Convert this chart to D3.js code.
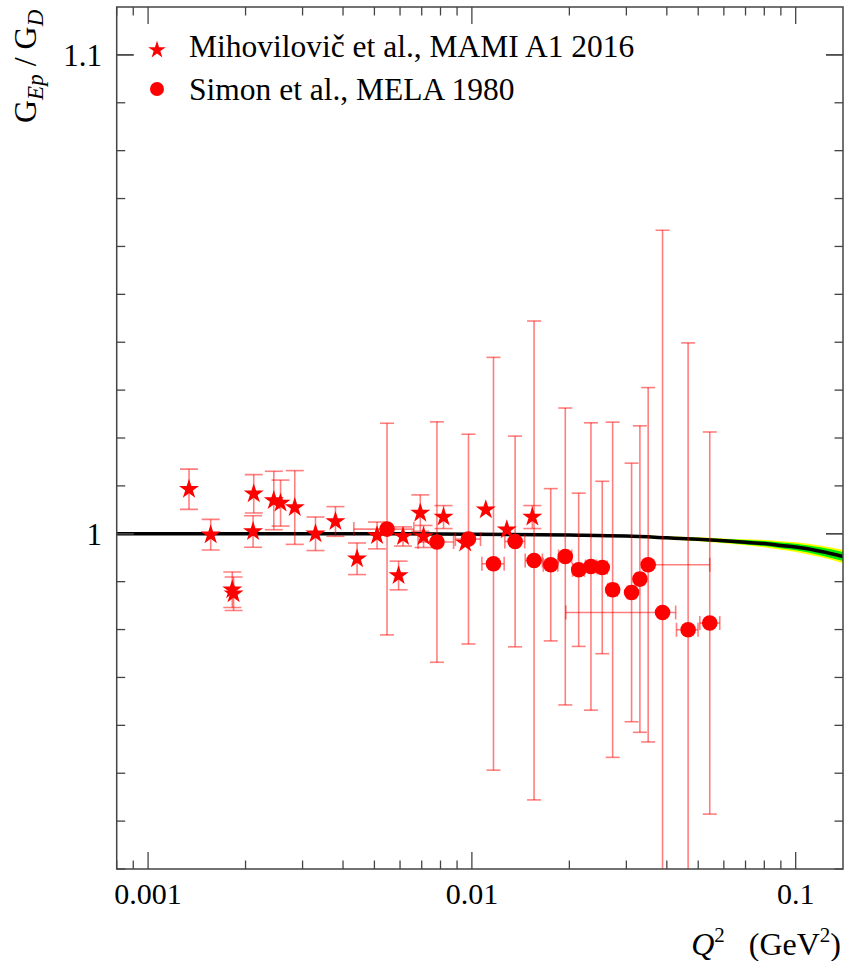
<!DOCTYPE html>
<html>
<head>
<meta charset="utf-8">
<script src="https://cdn.jsdelivr.net/npm/d3@7"></script>
<style>
    body { margin: 0; background: #fff; }
    svg { display: block; font-family: "Liberation Serif", "DejaVu Serif", serif; }
</style>
</head>
<body>
<div id="chart"></div>
<script>
// Mihovilovic et al., MAMI A1 2016 (stars)
var mamiQ2 = [0.001338, 0.001561, 0.001820, 0.001837, 0.00212, 0.00211, 0.002445, 0.002565, 0.002838,
    0.003289, 0.003790, 0.004420, 0.005095, 0.006128, 0.005938, 0.006929, 0.007093, 0.008176,
    0.009537, 0.01104, 0.01282, 0.01537];
var mamiVal = [1.0093, 0.9998, 0.98831, 0.98747, 1.00835, 1.00048, 1.00695, 1.00641, 1.00549,
    1.0000, 1.00257, 0.99478, 0.99965, 0.99944, 0.99129, 1.00432, 0.99944, 1.00349,
    0.99806, 1.00501, 1.00084, 1.00349];
var mamiErr = [0.0042, 0.0032, 0.0037, 0.0035, 0.0040, 0.0033, 0.0061, 0.0048, 0.0077,
    0.0035, 0.0031, 0.0033, 0.0028, 0.0020, 0.0030, 0.0038, 0.0023, 0.0024,
    0, 0, 0, 0.0024];

// Simon et al., MELA 1980 (circles)
var melaQ2 = [0.005470, 0.007800, 0.009761, 0.01166, 0.01360, 0.01556, 0.01752, 0.01943, 0.02137,
    0.02332, 0.02527, 0.02721, 0.03113, 0.03303, 0.03503, 0.03880, 0.04654, 0.05428];
var melaVal = [1.00098, 0.99827, 0.99889, 0.99374, 0.99839, 0.99443, 0.99353, 0.99526, 0.99248,
    0.99317, 0.99296, 0.98831, 0.98775, 0.99054, 0.99353, 0.98357, 0.97996, 0.98136];
var melaErr = [0.0221, 0.0251, 0.0219, 0.0431, 0.0220, 0.0500, 0.0159, 0.0310, 0.0160,
    0.0300, 0.0180, 0.0350, 0.0270, 0.0320, 0.0370, 0.0798, 0.0599, 0.0399];
var melaXLo = [0.00115, 0.00098, 0.00087, 0.00092, 0.00096, 0.00095, 0.0009, 0.0009, 0.0009,
    0.0009, 0.0009, 0.0009, 0.0009, 0.0009, 0.0009, 0.0193, 0.0037, 0.0037];
var melaXHi = [0.00115, 0.00098, 0.00087, 0.00092, 0.00096, 0.00095, 0.0009, 0.0009, 0.0009,
    0.0009, 0.0009, 0.0009, 0.0009, 0.0009, 0.01925, 0.0038, 0.0034, 0.004];

// fit curve with its uncertainty bands
var curveQ2 = [0.0008, 0.005, 0.01, 0.02, 0.03, 0.04, 0.05, 0.06, 0.07, 0.08, 0.09, 0.1, 0.12, 0.14];
var curveVal = [1.0, 1.0, 0.99992, 0.99973, 0.99952, 0.99916, 0.99885, 0.99854, 0.99823, 0.99795,
    0.99756, 0.99722, 0.9963, 0.99526];
var curveErrIn = [0, 0, 0.00005, 0.0001, 0.00015, 0.0002, 0.00028, 0.00035, 0.00045, 0.00052,
    0.0006, 0.00068, 0.00082, 0.00095];
var curveErrOut = [0, 0, 0.00008, 0.00016, 0.00024, 0.00032, 0.0004, 0.0005, 0.00064, 0.00076,
    0.00088, 0.001, 0.0012, 0.0014];

var xMajor = [0.001, 0.01, 0.1];
var xMajorLabels = ["0.001", "0.01", "0.1"];
var yMajor = [1.0, 1.1];
var yMajorLabels = ["1", "1.1"];

var width = 848,
    height = 961;
var pLeft = 116.7, pRight = 843, pTop = 7, pBottom = 869;

var x = d3.scaleLog().domain([0.0008, 0.14]).range([pLeft, pRight]);
var y = d3.scaleLinear().domain([0.93, 1.11]).range([pBottom, pTop]);

var svg = d3.select("#chart").append("svg")
    .attr("width", width)
    .attr("height", height);

svg.append("clipPath").attr("id", "plotclip")
    .append("rect")
    .attr("x", pLeft).attr("y", pTop)
    .attr("width", pRight - pLeft).attr("height", pBottom - pTop);

var plot = svg.append("g").attr("clip-path", "url(#plotclip)");

var mami = mamiQ2.map(function (q, i) {
    return { q: q, v: mamiVal[i], e: mamiErr[i] };
});
var mela = melaQ2.map(function (q, i) {
    return { q: q, v: melaVal[i], e: melaErr[i], xlo: melaXLo[i], xhi: melaXHi[i] };
});
var curve = curveQ2.map(function (q, i) {
    return { q: q, v: curveVal[i], e1: curveErrIn[i], e2: curveErrOut[i] };
});

// bands
var bandOut = d3.area()
    .x(function (d) { return x(d.q); })
    .y0(function (d) { return y(d.v - d.e2); })
    .y1(function (d) { return y(d.v + d.e2); })
    .curve(d3.curveMonotoneX);
var bandIn = d3.area()
    .x(function (d) { return x(d.q); })
    .y0(function (d) { return y(d.v - d.e1); })
    .y1(function (d) { return y(d.v + d.e1); })
    .curve(d3.curveMonotoneX);
var line = d3.line()
    .x(function (d) { return x(d.q); })
    .y(function (d) { return y(d.v); })
    .curve(d3.curveMonotoneX);

plot.append("path").attr("d", bandOut(curve)).attr("fill", "#ffff00");
plot.append("path").attr("d", bandIn(curve)).attr("fill", "#00ee00");
plot.append("path").attr("d", line(curve))
    .attr("fill", "none").attr("stroke", "#000").attr("stroke-width", 3.5);

// error bars
var errCol = "rgba(255,0,0,0.5)";
var eb = plot.append("g").attr("stroke", errCol).attr("stroke-width", 1.6).attr("fill", "none");

mami.forEach(function (d) {
    if (d.e <= 0) return;
    var xp = x(d.q);
    eb.append("line").attr("x1", xp).attr("x2", xp).attr("y1", y(d.v - d.e)).attr("y2", y(d.v + d.e));
    [d.v - d.e, d.v + d.e].forEach(function (v) {
        eb.append("line").attr("x1", xp - 9).attr("x2", xp + 9).attr("y1", y(v)).attr("y2", y(v));
    });
});

mela.forEach(function (d) {
    var xp = x(d.q), yp = y(d.v);
    eb.append("line").attr("x1", xp).attr("x2", xp).attr("y1", y(d.v - d.e)).attr("y2", y(d.v + d.e));
    [d.v - d.e, d.v + d.e].forEach(function (v) {
        eb.append("line").attr("x1", xp - 7).attr("x2", xp + 7).attr("y1", y(v)).attr("y2", y(v));
    });
    var xa = x(d.q - d.xlo), xb = x(d.q + d.xhi);
    eb.append("line").attr("x1", xa).attr("x2", xb).attr("y1", yp).attr("y2", yp);
    [xa, xb].forEach(function (xx) {
        eb.append("line").attr("x1", xx).attr("x2", xx).attr("y1", yp - 7).attr("y2", yp + 7);
    });
});

// markers
var star = d3.symbol().type(d3.symbolStar).size(125);
plot.selectAll(".star").data(mami).enter().append("path")
    .attr("class", "star")
    .attr("d", star)
    .attr("fill", "#ff0000")
    .attr("transform", function (d) { return "translate(" + x(d.q) + "," + y(d.v) + ")"; });

plot.selectAll(".dot").data(mela).enter().append("circle")
    .attr("class", "dot")
    .attr("cx", function (d) { return x(d.q); })
    .attr("cy", function (d) { return y(d.v); })
    .attr("r", 7.8)
    .attr("fill", "#ff0000");

// frame and ticks
var axisCol = "#444";
svg.append("rect")
    .attr("x", pLeft).attr("y", pTop)
    .attr("width", pRight - pLeft).attr("height", pBottom - pTop)
    .attr("fill", "none").attr("stroke", axisCol).attr("stroke-width", 1.5);

var xMinor = [];
[0.0001, 0.001, 0.01].forEach(function (dec) {
    for (var k = 2; k <= 9; k++) {
        var q = dec * k;
        if (q >= 0.0008 && q <= 0.14) xMinor.push(q);
    }
});
var yMinor = d3.range(93, 111).map(function (k) { return k / 100; });

var ticks = svg.append("g").attr("stroke", axisCol).attr("stroke-width", 1.3);
xMinor.forEach(function (q) {
    ticks.append("line").attr("x1", x(q)).attr("x2", x(q)).attr("y1", pBottom).attr("y2", pBottom - 8.5);
    ticks.append("line").attr("x1", x(q)).attr("x2", x(q)).attr("y1", pTop).attr("y2", pTop + 8.5);
});
xMajor.forEach(function (q) {
    ticks.append("line").attr("x1", x(q)).attr("x2", x(q)).attr("y1", pBottom).attr("y2", pBottom - 17);
    ticks.append("line").attr("x1", x(q)).attr("x2", x(q)).attr("y1", pTop).attr("y2", pTop + 17);
});
yMinor.concat(yMajor).forEach(function (v) {
    var len = yMajor.indexOf(v) >= 0 ? 17 : 8.5;
    ticks.append("line").attr("x1", pLeft).attr("x2", pLeft + len).attr("y1", y(v)).attr("y2", y(v));
    ticks.append("line").attr("x1", pRight).attr("x2", pRight - len).attr("y1", y(v)).attr("y2", y(v));
});

// tick labels
svg.selectAll(".xlab").data(xMajor).enter().append("text")
    .attr("x", function (d) { return x(d); })
    .attr("y", 904)
    .attr("text-anchor", "middle")
    .attr("font-size", 30)
    .text(function (d, i) { return xMajorLabels[i]; });

svg.selectAll(".ylab").data(yMajor).enter().append("text")
    .attr("x", 102)
    .attr("y", function (d) { return y(d) + 11; })
    .attr("text-anchor", "end")
    .attr("font-size", 31)
    .text(function (d, i) { return yMajorLabels[i]; });

// axis titles
var yt = svg.append("text")
    .attr("transform", "translate(36,123) rotate(-90)")
    .attr("font-size", 32);
yt.append("tspan").text("G");
yt.append("tspan").attr("dy", 7).attr("font-size", 23).attr("font-style", "italic").text("Ep");
yt.append("tspan").attr("dy", -7).text("\u00a0/\u00a0G");
yt.append("tspan").attr("dy", 7).attr("font-size", 23).attr("font-style", "italic").text("D");

var xt = svg.append("text")
    .attr("x", 841).attr("y", 955)
    .attr("text-anchor", "end")
    .attr("font-size", 32);
xt.append("tspan").attr("font-style", "italic").text("Q");
xt.append("tspan").attr("dy", -13).attr("font-size", 21).text("2");
xt.append("tspan").attr("dy", 13).text("\u00a0\u00a0\u00a0(GeV");
xt.append("tspan").attr("dy", -13).attr("font-size", 21).text("2");
xt.append("tspan").attr("dy", 13).text(")");

// legend
var legend = svg.append("g");
legend.append("path")
    .attr("d", d3.symbol().type(d3.symbolStar).size(95))
    .attr("fill", "#ff0000")
    .attr("transform", "translate(157,50)");
legend.append("text").attr("x", 189).attr("y", 57).attr("font-size", 31.5)
    .text("Mihovilovič et al., MAMI A1 2016");
legend.append("circle").attr("cx", 157).attr("cy", 89).attr("r", 7).attr("fill", "#ff0000");
legend.append("text").attr("x", 189).attr("y", 100).attr("font-size", 31.5)
    .text("Simon et al., MELA 1980");
</script>
</body>
</html>
